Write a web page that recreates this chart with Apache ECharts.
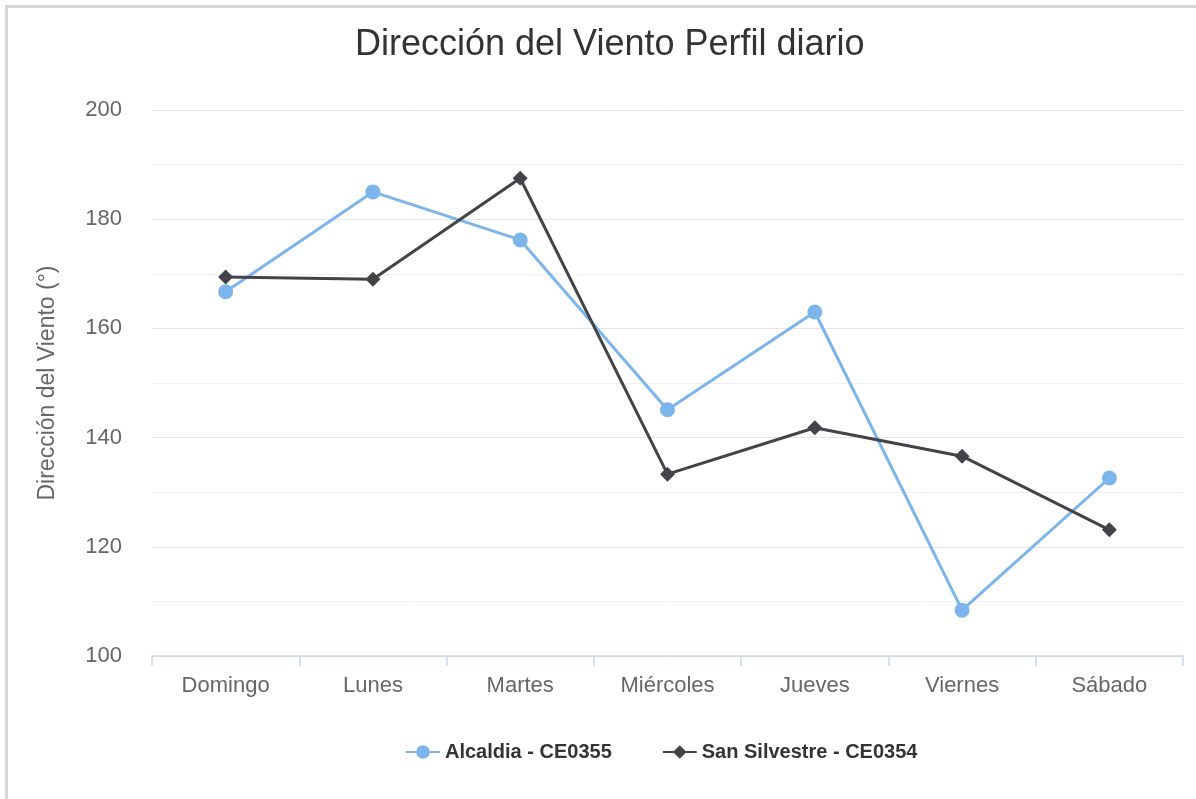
<!DOCTYPE html>
<html>
<head>
<meta charset="utf-8">
<script src="https://cdn.jsdelivr.net/npm/echarts@6/dist/echarts.min.js"></script>
<style>
  html, body { margin: 0; padding: 0; background: #fff; }
  #frame {
    position: absolute; left: 5px; top: 5px; width: 1191px; height: 794px;
    border-top: 3px solid #d6d6d6; border-left: 3px solid #d6d6d6;
    box-sizing: border-box;
  }
  #chart { position: absolute; left: 0; top: 0; width: 1196px; height: 799px; }
</style>
</head>
<body>
<div id="frame"></div>
<div id="chart"></div>
<script>
const dias = ['Domingo', 'Lunes', 'Martes', 'Miércoles', 'Jueves', 'Viernes', 'Sábado'];
const alcaldia = [166.7, 185.0, 176.2, 145.1, 163.0, 108.4, 132.6];
const sanSilvestre = [169.4, 169.0, 187.5, 133.3, 141.8, 136.6, 123.1];

const chart = echarts.init(document.getElementById('chart'));
const font = 'Liberation Sans, Arial, sans-serif';

const option = {
  animation: false,
  textStyle: { fontFamily: font },
  title: {
    text: 'Dirección del Viento Perfil diario',
    left: 350,
    top: 22,
    textStyle: { fontFamily: font, fontSize: 36, fontWeight: 'normal', color: '#333' }
  },
  legend: {
    left: 400,
    top: 737,
    itemWidth: 34,
    itemHeight: 17,
    itemGap: 50,
    textStyle: { fontFamily: font, fontSize: 20, fontWeight: 'bold', color: '#333' },
    data: ['Alcaldia - CE0355', 'San Silvestre - CE0354']
  },
  grid: { left: 152, right: 13, top: 110, bottom: 143 },
  xAxis: {
    type: 'category',
    data: dias,
    boundaryGap: true,
    axisLine: { lineStyle: { color: '#ccd6eb', width: 1.5 } },
    axisTick: { show: true, length: 10, lineStyle: { color: '#ccd6eb', width: 1.5 } },
    axisLabel: { fontFamily: font, fontSize: 22, color: '#666', margin: 19 }
  },
  yAxis: {
    type: 'value',
    min: 100,
    max: 200,
    interval: 20,
    name: 'Dirección del Viento (°)',
    nameLocation: 'middle',
    nameGap: 93,
    nameTextStyle: { fontFamily: font, fontSize: 23, color: '#666' },
    axisLine: { show: false },
    axisTick: { show: false },
    axisLabel: { fontFamily: font, fontSize: 22, color: '#666', margin: 30 },
    splitLine: { lineStyle: { color: '#e6e6e6', width: 1 } },
    minorTick: { show: false, splitNumber: 2 },
    minorSplitLine: { show: true, lineStyle: { color: '#f0f0f0', width: 1 } }
  },
  series: [
    {
      name: 'Alcaldia - CE0355',
      type: 'line',
      data: alcaldia,
      symbol: 'circle',
      symbolSize: 15,
      itemStyle: { color: '#7cb5ec' },
      lineStyle: { color: '#7cb5ec', width: 3 }
    },
    {
      name: 'San Silvestre - CE0354',
      type: 'line',
      data: sanSilvestre,
      symbol: 'diamond',
      symbolSize: 15,
      itemStyle: { color: '#434348' },
      lineStyle: { color: '#434348', width: 3 }
    }
  ]
};
chart.setOption(option);
</script>
</body>
</html>
